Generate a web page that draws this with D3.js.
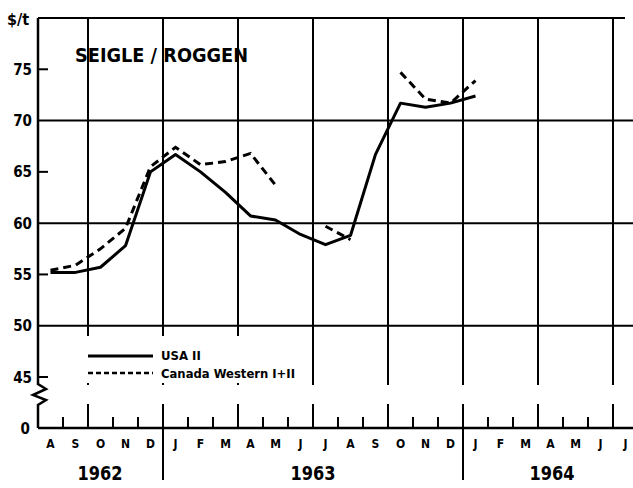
<!DOCTYPE html>
<html>
<head>
<meta charset="utf-8">
<script src="https://cdn.jsdelivr.net/npm/d3@7"></script>
<style>
  body { margin: 0; background: #fff; }
  svg { display: block; }
  text { font-family: "DejaVu Sans Condensed", "DejaVu Sans", sans-serif; font-weight: bold; fill: #000; }
</style>
</head>
<body>
<svg id="chart" width="633" height="488"></svg>
<script>
// month letters, Aug 1962 .. Jul 1964
var months = ["A","S","O","N","D","J","F","M","A","M","J","J","A","S","O","N","D","J","F","M","A","M","J","J"];
var years = ["1962", "1963", "1964"];
var yTicks = [45, 50, 55, 60, 65, 70, 75];
var yGrid = [50, 60, 70];
// USA II (solid)
var usa = [55.2, 55.2, 55.7, 57.8, 65.0, 66.7, 65.0, 63.0, 60.7, 60.3, 58.9, 57.9, 58.8, 66.7, 71.7, 71.3, 71.7, 72.4];
// Canada Western I+II (dashed), gaps = null
var canada = [55.4, 55.9, 57.5, 59.5, 65.5, 67.4, 65.7, 66.0, 66.8, 63.7, null, 59.7, 58.4, null, 74.7, 72.1, 71.7, 73.9];

var svg = d3.select("#chart");
var x = d3.scaleLinear().domain([0, 24]).range([38, 638]);
var y = d3.scaleLinear().domain([45, 80]).range([377, 18]);
var yZero = 428;
var gridBottom = 385;

// horizontal grid
svg.append("g").selectAll("line").data(yGrid).enter().append("line")
  .attr("x1", x(0)).attr("x2", 633)
  .attr("y1", d => y(d)).attr("y2", d => y(d))
  .attr("stroke", "#000").attr("stroke-width", 2);

// top border
svg.append("line")
  .attr("x1", x(0)).attr("x2", 625).attr("y1", y(80)).attr("y2", y(80))
  .attr("stroke", "#000").attr("stroke-width", 2);

// vertical grid every 3 months
var bounds = d3.range(1, 24);
svg.append("g").selectAll("line").data(bounds.filter(d => (d - 2) % 3 == 0)).enter().append("line")
  .attr("x1", d => x(d)).attr("x2", d => x(d))
  .attr("y1", y(80)).attr("y2", gridBottom)
  .attr("stroke", "#000").attr("stroke-width", 2);

// y axis with break
svg.append("path")
  .attr("d", d3.line()([[x(0), y(80)], [x(0), 384], [46, 389], [33, 395], [46, 400], [x(0), 405], [x(0), yZero]]))
  .attr("fill", "none").attr("stroke", "#000").attr("stroke-width", 2.5);

// y ticks
svg.append("g").selectAll("line").data(yTicks.filter(d => yGrid.indexOf(d) < 0)).enter().append("line")
  .attr("x1", x(0)).attr("x2", x(0) + 10)
  .attr("y1", d => y(d)).attr("y2", d => y(d))
  .attr("stroke", "#000").attr("stroke-width", 2);

svg.append("g").selectAll("text").data(yTicks).enter().append("text")
  .attr("x", 32).attr("y", d => y(d) + 5.5)
  .attr("text-anchor", "end").style("font-size", "15px")
  .text(d => d);
svg.append("text").attr("x", 30).attr("y", yZero + 5.5)
  .attr("text-anchor", "end").style("font-size", "15px").text("0");
svg.append("text").attr("x", 7).attr("y", 25)
  .style("font-size", "16px").text("$/t");

// x axis
svg.append("line")
  .attr("x1", x(0)).attr("x2", 633).attr("y1", yZero).attr("y2", yZero)
  .attr("stroke", "#000").attr("stroke-width", 2.5);
svg.append("g").selectAll("line").data(bounds).enter().append("line")
  .attr("x1", d => x(d)).attr("x2", d => x(d))
  .attr("y1", d => (d - 2) % 3 == 0 ? 404 : 417)
  .attr("y2", d => (d == 5 || d == 17) ? 480 : yZero)
  .attr("stroke", "#000").attr("stroke-width", 2);

svg.append("g").selectAll("text").data(months).enter().append("text")
  .attr("x", (d, i) => x(i + 0.5)).attr("y", 448)
  .attr("text-anchor", "middle").style("font-size", "12px")
  .text(d => d);

var yearX = [100, 313, 552];
svg.append("g").selectAll("text").data(years).enter().append("text")
  .attr("x", (d, i) => yearX[i])
  .attr("y", 480).attr("text-anchor", "middle").style("font-size", "19px")
  .attr("textLength", 45).attr("lengthAdjust", "spacingAndGlyphs")
  .text(d => d);

// title
svg.append("text").attr("x", 75).attr("y", 62)
  .style("font-size", "20px").attr("textLength", 173).attr("lengthAdjust", "spacingAndGlyphs")
  .text("SEIGLE / ROGGEN");

// legend
svg.append("rect").attr("x", 70).attr("y", 336).attr("width", 235).attr("height", 47).attr("fill", "#fff");
svg.append("line").attr("x1", 88).attr("x2", 153).attr("y1", 356).attr("y2", 356)
  .attr("stroke", "#000").attr("stroke-width", 3);
svg.append("line").attr("x1", 88).attr("x2", 153).attr("y1", 373).attr("y2", 373)
  .attr("stroke", "#000").attr("stroke-width", 2.5).attr("stroke-dasharray", "5,3");
svg.append("text").attr("x", 161).attr("y", 360).style("font-size", "13px").text("USA II");
svg.append("text").attr("x", 161).attr("y", 378).style("font-size", "13px")
  .attr("textLength", 134).attr("lengthAdjust", "spacingAndGlyphs").text("Canada Western I+II");

// series
var line = d3.line()
  .defined(d => d != null)
  .x((d, i) => x(i + 0.5))
  .y(d => y(d));

svg.append("path").datum(usa).attr("d", line)
  .attr("fill", "none").attr("stroke", "#000").attr("stroke-width", 3).attr("stroke-linejoin", "round");
svg.append("path").datum(canada).attr("d", line)
  .attr("fill", "none").attr("stroke", "#000").attr("stroke-width", 3).attr("stroke-dasharray", "8,5");
</script>
</body>
</html>
